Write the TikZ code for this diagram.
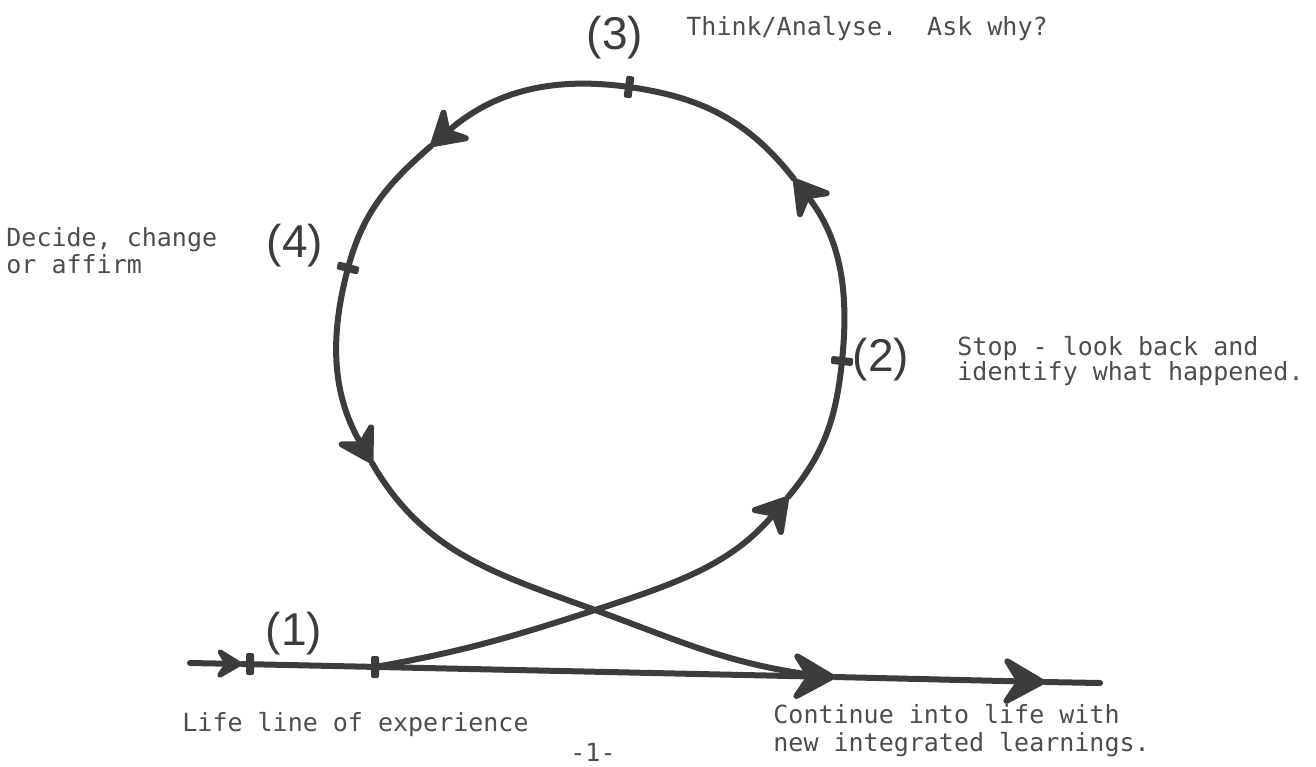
\documentclass[tikz,border=0pt]{standalone}
\usepackage{fontspec}
\setmonofont{DejaVu Sans Mono}
\newfontfamily\handfont{Liberation Sans}
\usetikzlibrary{arrows.meta, positioning}

\definecolor{ink}{HTML}{3C3C3C}
\definecolor{typed}{HTML}{4D4D4D}

\begin{document}
\begin{tikzpicture}[
    x=0.5pt, y=0.5pt,
    line/.style = {draw=ink, line width=3pt, line cap=round},
    flow/.style = {line, -{Stealth[length=21pt, width=25pt, inset=7pt, round]}},
    smallflow/.style = {line, -{Stealth[length=16pt, width=19pt, inset=6pt, round]}},
    bigflow/.style = {line, -{Stealth[length=25pt, width=28pt, inset=9pt, round]}},
    tickbar/.style = {fill=ink, minimum width=4pt, minimum height=11pt, inner sep=0pt, rounded corners=1pt},
    stage/.style = {font=\handfont\fontsize{23}{23}\selectfont, text=ink, inner sep=0pt},
    note/.style = {font=\ttfamily\fontsize{12.5}{12.5}\selectfont, text=typed, align=left, inner sep=0pt}
]
    \useasboundingbox (0,0) rectangle (1316,-766);

    % Life line
    \coordinate (start) at (190,-663);
    \coordinate (a0) at (242,-664);
    \coordinate (join) at (375,-667);
    \coordinate (merge) at (835,-677);
    \coordinate (a5) at (1045,-682);
    \coordinate (lend) at (1100,-683);

    % Loop
    \coordinate (cross) at (595,-610);
    \coordinate (a1) at (788,-497);
    \coordinate (t2) at (842,-361);
    \coordinate (a2) at (794,-179);
    \coordinate (t3) at (629,-87);
    \coordinate (a3) at (431,-146);
    \coordinate (t4) at (348,-268);
    \coordinate (a4) at (372,-463);
    \coordinate (mloop) at (812,-675);

    \draw[smallflow] (start) -- (a0);
    \draw[bigflow] (a0) -- (merge);
    \draw[bigflow] (merge) -- (a5);
    \draw[line] (a5) -- (lend);

    \draw[line] (join) to[out=10, in=198] (cross);
    \draw[flow] (cross) to[out=18, in=230] (a1);
    \draw[line] (a1) to[out=50, in=264] (t2);
    \draw[flow] (t2) to[out=84, in=308] (a2);
    \draw[line] (a2) to[out=128, in=352] (t3);
    \draw[flow] (t3) to[out=172, in=41] (a3);
    \draw[line] (a3) to[out=221, in=75] (t4);
    \draw[flow] (t4) to[out=255, in=120] (a4);
    \draw[line] (a4) to[out=300, in=160] (cross);
    \draw[line] (cross) to[out=340, in=172] (mloop);

    % Ticks
    \node[tickbar] (tick1) at (250,-664) {};
    \node[tickbar] (tickj) at (join) {};
    \node[tickbar, rotate=84] (tick2) at (t2) {};
    \node[tickbar, rotate=172] (tick3) at (t3) {};
    \node[tickbar, rotate=255] (tick4) at (t4) {};

    % Stages
    \node[stage] (s1) at (294,-634) {(1)};
    \node[stage] (s2) at (881,-360) {(2)};
    \node[stage] (s3) at (615,-38) {(3)};
    \node[stage] (s4) at (295,-246) {(4)};

    % Notes
    \node[note, anchor=base west] (think) at (686,-35) {Think/Analyse.\ \ Ask why?};
    \node[note, anchor=base west, font=\ttfamily\fontsize{12.5}{11.5}\selectfont] (decide) at (6,-273) {Decide, change\\or affirm};
    \node[note, anchor=base west] (stop) at (957,-380) {Stop - look back and\\identify what happened.};
    \node[note, anchor=base west] (life) at (182,-731) {Life line of experience};
    \node[note, anchor=base west, font=\ttfamily\fontsize{12.5}{14}\selectfont] (cont) at (773,-751) {Continue into life with\\new integrated learnings.};
    \node[note] (page) at (593,-752) {-1-};
\end{tikzpicture}
\end{document}
